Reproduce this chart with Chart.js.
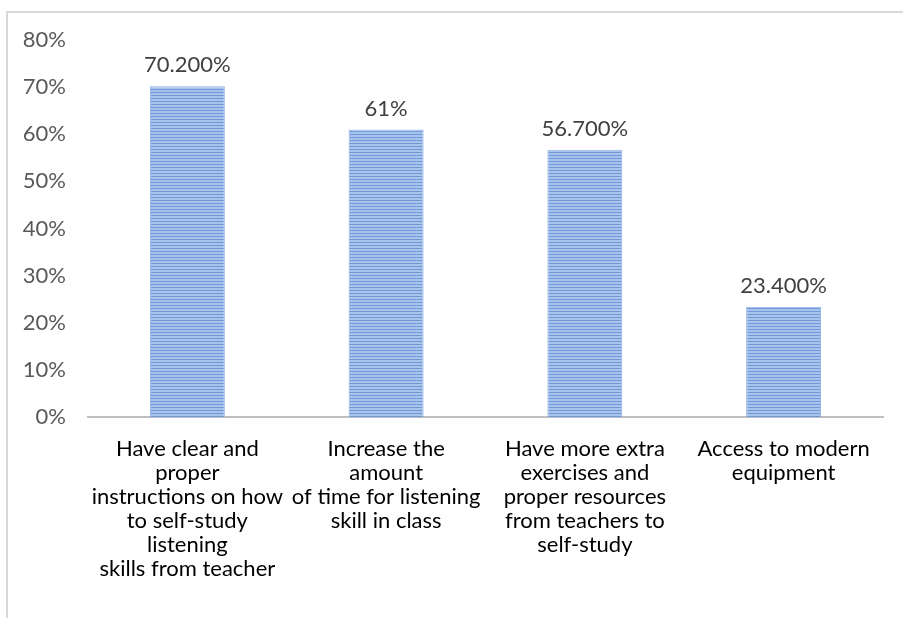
<!DOCTYPE html>
<html>
<head>
<meta charset="utf-8">
<script src="https://cdn.jsdelivr.net/npm/chart.js@4/dist/chart.umd.min.js"></script>
<style>
  body { margin: 0; background: #fff; }
  #wrap { position: relative; width: 903px; height: 618px; overflow: hidden; }
  #frame {
    position: absolute; left: 6px; top: 11px; width: 1000px; height: 1000px;
    border-left: 2px solid #d9d9d9; border-top: 2px solid #d9d9d9;
  }
  canvas { position: absolute; left: 0; top: 0; }
</style>
</head>
<body>
<div id="wrap">
  <div id="frame"></div>
  <canvas id="chart" width="903" height="618"></canvas>
</div>
<script>
// data
const categories = [
  ["Have clear and", "proper", "instructions on how", "to self-study", "listening", "skills from teacher"],
  ["Increase the", "amount", "of time for listening", "skill in class"],
  ["Have more extra", "exercises and", "proper resources", "from teachers to", "self-study"],
  ["Access to modern", "equipment"]
];
const values = [0.702, 0.61, 0.567, 0.234];
const valueLabels = ["70.200%", "61%", "56.700%", "23.400%"];
const yTicks = [0, 0.1, 0.2, 0.3, 0.4, 0.5, 0.6, 0.7, 0.8];

const FONT = "Lato";

// striped fill like the original
function stripes() {
  const c = document.createElement("canvas");
  c.width = 4; c.height = 3;
  const g = c.getContext("2d");
  g.fillStyle = "#a8c4ec";
  g.fillRect(0, 0, 4, 3);
  g.fillStyle = "#7199d8";
  g.fillRect(0, 2, 4, 1);
  return g.createPattern(c, "repeat");
}

// draw the value text above each bar
const valueLabelPlugin = {
  id: "valueLabels",
  afterDatasetsDraw(chart) {
    const ctx = chart.ctx;
    const meta = chart.getDatasetMeta(0);
    ctx.save();
    ctx.font = "22px " + FONT;
    ctx.fillStyle = "#404040";
    ctx.textAlign = "center";
    ctx.textBaseline = "middle";
    meta.data.forEach((bar, i) => {
      ctx.fillText(valueLabels[i], bar.x, bar.y - 21);
    });
    ctx.restore();
  }
};

new Chart(document.getElementById("chart"), {
  type: "bar",
  data: {
    labels: categories,
    datasets: [{
      data: values,
      backgroundColor: stripes(),
      borderColor: "#8eb0e2",
      borderWidth: 1,
      barPercentage: 0.377,
      categoryPercentage: 1
    }]
  },
  options: {
    responsive: false,
    animation: false,
    layout: { padding: { top: 40, right: 20, left: 0, bottom: 0 } },
    plugins: {
      legend: { display: false },
      tooltip: { enabled: false }
    },
    scales: {
      y: {
        min: 0,
        max: 0.8,
        afterFit: (s) => { s.width = 88; },
        afterBuildTicks: (s) => { s.ticks = yTicks.map((v) => ({ value: v })); },
        grid: { display: false, drawTicks: false },
        border: { display: false },
        ticks: {
          padding: 22,
          color: "#595959",
          font: { family: FONT, size: 22 },
          callback: (v) => Math.round(v * 100) + "%"
        }
      },
      x: {
        afterFit: (s) => { s.height = 201; },
        grid: { display: false, drawTicks: false },
        border: { display: true, color: "#bfbfbf", width: 2 },
        ticks: {
          padding: 20,
          maxRotation: 0,
          autoSkip: false,
          color: "#000000",
          font: { family: FONT, size: 22, lineHeight: 1.09 }
        }
      }
    }
  },
  plugins: [valueLabelPlugin]
});
</script>
</body>
</html>
